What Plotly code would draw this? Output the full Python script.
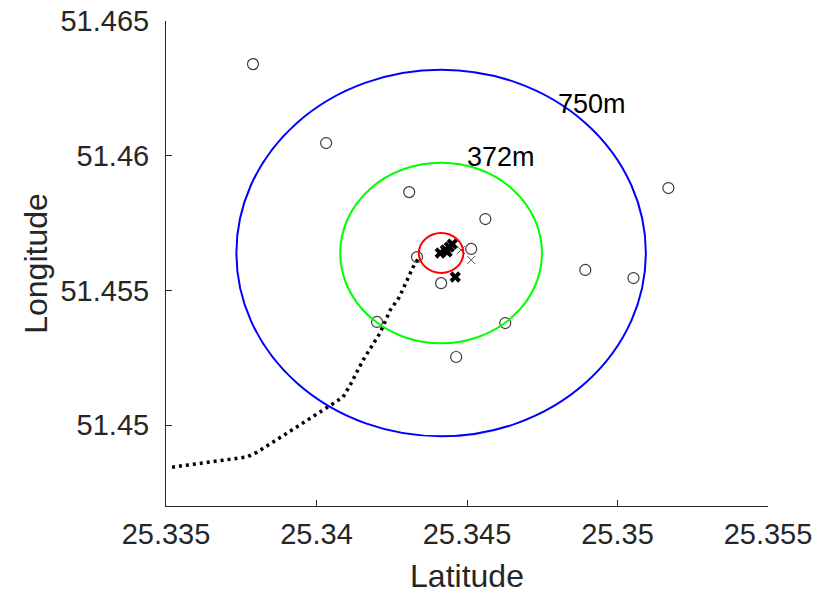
import plotly.graph_objects as go

# ---- data ----
x_ticks = [25.335, 25.34, 25.345, 25.35, 25.355]
x_tick_labels = ["25.335", "25.34", "25.345", "25.35", "25.355"]
y_ticks = [51.45, 51.455, 51.46, 51.465]
y_tick_labels = ["51.45", "51.455", "51.46", "51.465"]

# dotted track (lat, lon)
track_lat = [25.33520, 25.33769, 25.33803, 25.33889, 25.33955, 25.34022, 25.34088,
             25.34112, 25.34155, 25.34211, 25.34245, 25.34275, 25.34295, 25.34321, 25.34341]
track_lon = [51.44844, 51.44882, 51.44900, 51.44963, 51.45008, 51.45056, 51.45104,
             51.45149, 51.45242, 51.45342, 51.45427, 51.45475, 51.45527, 51.45587, 51.45624]

# open circle points
pts_lat = [25.33789, 25.34032, 25.34308, 25.34561, 25.35169, 25.34514, 25.34334,
           25.34893, 25.35053, 25.34414, 25.34201, 25.34627, 25.34464]
pts_lon = [51.46340, 51.46047, 51.45865, 51.45765, 51.45880, 51.45654, 51.45624,
           51.45576, 51.45546, 51.45527, 51.45383, 51.45379, 51.45253]

# bold crosses
bx_lat = [25.34411, 25.34428, 25.34441, 25.34451, 25.34434, 25.34461]
bx_lon = [51.45639, 51.45650, 51.45661, 51.45672, 51.45643, 51.45550]

# thin crosses
tx_lat = [25.34514, 25.34480]
tx_lon = [51.45613, 51.45650]

# range circles
center_lat = 25.34414
center_lon = 51.45639
radii_m = [755, 372, 82]
circle_colors = ["#0000FF", "#00FF00", "#FF0000"]
METERS_PER_DEG = 111000.0

label_texts = ["750m", "372m"]
label_lat = [25.34916, 25.34612]
label_lon = [51.46192, 51.45995]

FONT = "Liberation Sans, Arial, sans-serif"
TXT = "#262626"

fig = go.Figure()

for r_m, col in zip(radii_m, circle_colors):
    r = r_m / METERS_PER_DEG
    fig.add_shape(type="circle", xref="x", yref="y",
                  x0=center_lat - r, x1=center_lat + r,
                  y0=center_lon - r, y1=center_lon + r,
                  line=dict(color=col, width=2))

fig.add_trace(go.Scatter(x=track_lat, y=track_lon, mode="lines",
                         line=dict(color="black", width=3.5, dash="3px,4px"),
                         showlegend=False, hoverinfo="skip"))

fig.add_trace(go.Scatter(x=pts_lat, y=pts_lon, mode="markers",
                         marker=dict(symbol="circle-open", size=11,
                                     color="#3a3a3a", line=dict(width=1.2)),
                         showlegend=False))

fig.add_trace(go.Scatter(x=tx_lat, y=tx_lon, mode="markers",
                         marker=dict(symbol="x-thin-open", size=8,
                                     color="#555555", line=dict(width=1)),
                         showlegend=False))

fig.add_trace(go.Scatter(x=bx_lat, y=bx_lon, mode="markers",
                         marker=dict(symbol="x", size=10, color="black"),
                         showlegend=False))

for t, xl, yl in zip(label_texts, label_lat, label_lon):
    fig.add_annotation(x=xl, y=yl, text=t, showarrow=False,
                       font=dict(family=FONT, size=27, color="black"))

axis_common = dict(showline=True, linecolor=TXT, linewidth=1, mirror=False,
                   ticks="inside", ticklen=6, tickcolor=TXT, showgrid=False,
                   zeroline=False, ticklabeloverflow="allow", automargin=False,
                   tickfont=dict(family=FONT, size=29, color=TXT))

fig.update_xaxes(range=[25.335, 25.355], tickvals=x_ticks, ticktext=x_tick_labels,
                 ticklabelstandoff=2,
                 title=dict(text="Latitude", font=dict(family=FONT, size=32, color=TXT), standoff=16),
                 **axis_common)
fig.update_yaxes(range=[51.447, 51.465], tickvals=y_ticks, ticktext=y_tick_labels,
                 ticklabelstandoff=10,
                 title=dict(text="Longitude", font=dict(family=FONT, size=32, color=TXT), standoff=3),
                 **axis_common)

fig.update_layout(width=840, height=594, plot_bgcolor="white", paper_bgcolor="white",
                  margin=dict(l=166, r=72, t=21, b=88), showlegend=False)

fig.write_html("out.html", config={"displayModeBar": False},
               post_script="document.body.style.margin='0';")
